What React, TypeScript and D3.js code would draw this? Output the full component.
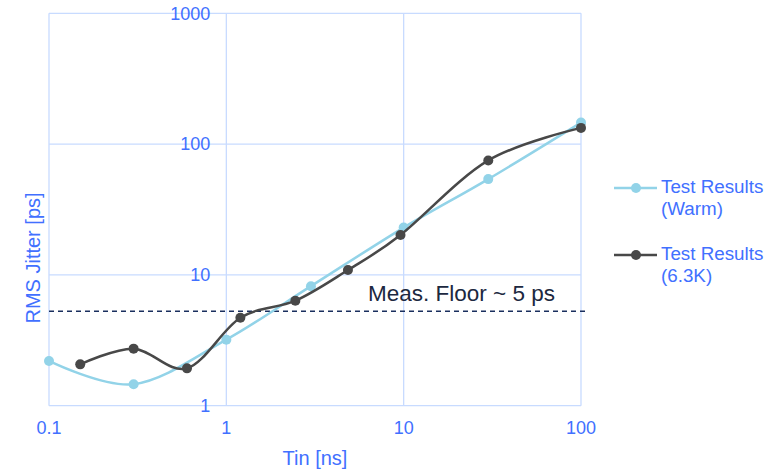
import React from 'react'
import * as d3 from 'd3'

// data
const warmX = [0.1, 0.3, 1, 3, 10, 30, 100]
const warmY = [2.2, 1.46, 3.2, 8.2, 23, 54, 146]
const coldX = [0.15, 0.3, 0.6, 1.2, 2.45, 4.85, 9.6, 30, 100]
const coldY = [2.07, 2.73, 1.93, 4.7, 6.35, 10.9, 20.2, 75, 133]
const floorX = [0.1, 108]
const floorY = [5.27, 5.27]
const xTicks = [0.1, 1, 10, 100]
const yTicks = [1, 10, 100, 1000]
const seriesNames = ['Test Results', 'Test Results']
const seriesSub = ['(Warm)', '(6.3K)']

const W = 779
const H = 476
const FONT = '"Liberation Sans", Arial, sans-serif'
const BLUE = '#4170ff'
const GRID = '#c8dbff'
const WARM = '#92d3e8'
const COLD = '#484848'

export default function App() {
  const x = d3.scaleLog().domain([0.1, 100]).range([49, 581])
  const y = d3.scaleLog().domain([1, 1000]).range([405.7, 13.3])

  const line = d3
    .line<[number, number]>()
    .x((d) => x(d[0]))
    .y((d) => y(d[1]))
    .curve(d3.curveCardinal.tension(0))

  const warm = warmX.map((v, i) => [v, warmY[i]] as [number, number])
  const cold = coldX.map((v, i) => [v, coldY[i]] as [number, number])
  const floor = floorX.map((v, i) => [v, floorY[i]] as [number, number])

  return (
    <svg
      width={W}
      height={H}
      style={{ position: 'absolute', left: 0, top: 0, background: '#fff' }}
      fontFamily={FONT}
    >
      {/* grid */}
      {xTicks.map((t) => (
        <line key={'gx' + t} x1={x(t)} x2={x(t)} y1={y(1000)} y2={y(1)} stroke={GRID} strokeWidth={1.3} />
      ))}
      {yTicks.map((t) => (
        <line key={'gy' + t} x1={x(0.1)} x2={x(100)} y1={y(t)} y2={y(t)} stroke={GRID} strokeWidth={1.3} />
      ))}

      {/* tick labels */}
      {yTicks.map((t) => (
        <text key={'ty' + t} x={x(1) - 16} y={y(t)} dy="0.35em" textAnchor="end" fontSize={18} fill={BLUE}>
          {t}
        </text>
      ))}
      {xTicks.map((t) => (
        <text key={'tx' + t} x={x(t)} y={y(1) + 28} textAnchor="middle" fontSize={18} fill={BLUE}>
          {t}
        </text>
      ))}

      {/* axis titles */}
      <text x={315} y={465} textAnchor="middle" fontSize={20} fill={BLUE}>
        Tin [ns]
      </text>
      <text
        transform="translate(40,258) rotate(-90)"
        textAnchor="middle"
        fontSize={20}
        fill={BLUE}
      >
        RMS Jitter [ps]
      </text>

      {/* measurement floor */}
      <path d={d3.line<[number, number]>().x((d) => x(d[0])).y((d) => y(d[1]))(floor) || ''} stroke="#1a2f5e" strokeWidth={1.6} strokeDasharray="5,4" fill="none" />
      <text x={368} y={301} fontSize={22.5} fill="#1c2840">
        Meas. Floor ~ 5 ps
      </text>

      {/* series */}
      <path d={line(warm) || ''} fill="none" stroke={WARM} strokeWidth={2.5} />
      {warm.map((d, i) => (
        <circle key={'w' + i} cx={x(d[0])} cy={y(d[1])} r={5} fill={WARM} />
      ))}
      <path d={line(cold) || ''} fill="none" stroke={COLD} strokeWidth={2.5} />
      {cold.map((d, i) => (
        <circle key={'c' + i} cx={x(d[0])} cy={y(d[1])} r={5} fill={COLD} />
      ))}

      {/* legend */}
      {[WARM, COLD].map((c, i) => {
        const ly = 188 + i * 67
        return (
          <g key={'lg' + i}>
            <line x1={614} x2={657} y1={ly} y2={ly} stroke={c} strokeWidth={2.5} />
            <circle cx={636} cy={ly} r={5} fill={c} />
            <text x={661} y={ly + 5} fontSize={18.8} fill={BLUE}>
              {seriesNames[i]}
            </text>
            <text x={661} y={ly + 27} fontSize={18.8} fill={BLUE}>
              {seriesSub[i]}
            </text>
          </g>
        )
      })}
    </svg>
  )
}
